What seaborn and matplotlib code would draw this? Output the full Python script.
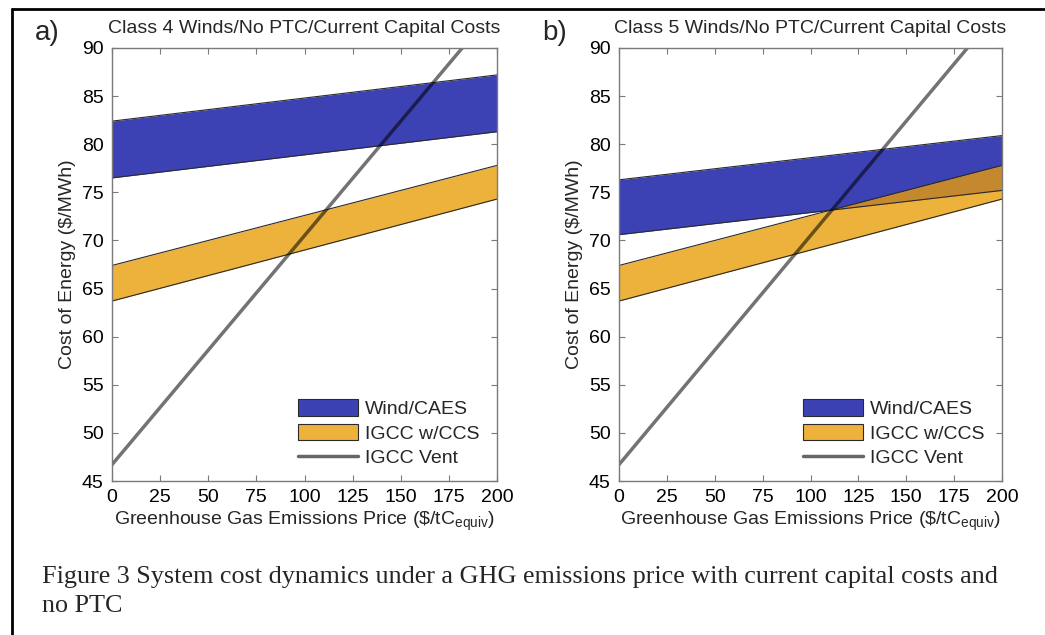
import matplotlib
matplotlib.use("Agg")
import matplotlib.pyplot as plt
import numpy as np
import pandas as pd
import seaborn as sns
from matplotlib.lines import Line2D
from matplotlib.patches import Patch

# data (cost of energy, $/MWh, at price 0 and 200 $/tC)
price = [0, 200]
vent = [46.7, 94.3]
ccs_low = [63.7, 74.3]
ccs_high = [67.4, 77.8]
wind4_low = [76.5, 81.3]
wind4_high = [82.4, 87.2]
wind5_low = [70.6, 75.2]
wind5_high = [76.3, 80.9]

panels = ["a)", "b)"]
titles = [
    "Class 4 Winds/No PTC/Current Capital Costs",
    "Class 5 Winds/No PTC/Current Capital Costs",
]
caption = ("Figure 3 System cost dynamics under a GHG emissions price with current capital costs and\n"
           "no PTC")

BLUE = "#3C42B4"
ORANGE = "#ECB23C"
OVERLAP = "#C4882F"
EDGE = "#2a2a2a"
SPINE = "#7a7a7a"

sns.set_theme(style="white")
plt.rcParams["font.family"] = ["Liberation Sans", "DejaVu Sans"]
plt.rcParams["mathtext.fontset"] = "custom"
plt.rcParams["mathtext.rm"] = "Liberation Sans"

fig = plt.figure(figsize=(10.45, 6.35), dpi=100)
axes = [
    fig.add_axes([112 / 1045, 1 - 481 / 635, 385 / 1045, 433 / 635]),
    fig.add_axes([619 / 1045, 1 - 481 / 635, 383 / 1045, 433 / 635]),
]

winds = [(wind4_low, wind4_high), (wind5_low, wind5_high)]

for ax, letter, title, (w_lo, w_hi) in zip(axes, panels, titles, winds):
    x = np.array(price, dtype=float)
    w_lo = np.array(w_lo)
    w_hi = np.array(w_hi)
    c_lo = np.array(ccs_low)
    c_hi = np.array(ccs_high)

    ax.fill_between(x, w_lo, w_hi, color=BLUE, lw=0)
    ax.fill_between(x, c_lo, c_hi, color=ORANGE, lw=0)
    ov_lo = np.maximum(w_lo, c_lo)
    ov_hi = np.minimum(w_hi, c_hi)
    ax.fill_between(x, ov_lo, ov_hi, where=ov_hi > ov_lo, interpolate=True,
                    color=OVERLAP, lw=0)

    edges = pd.DataFrame({"price": x, "wl": w_lo, "wh": w_hi, "cl": c_lo, "ch": c_hi})
    for col in ["wl", "wh", "cl", "ch"]:
        sns.lineplot(data=edges, x="price", y=col, ax=ax, color=EDGE, lw=0.8)

    vent_df = pd.DataFrame({"price": price, "cost": vent})
    sns.lineplot(data=vent_df, x="price", y="cost", ax=ax, color="black",
                 alpha=0.55, lw=2.5)

    ax.set_xlim(0, 200)
    ax.set_ylim(45, 90)
    ax.set_xticks(range(0, 201, 25))
    ax.set_yticks(range(45, 91, 5))
    ax.tick_params(direction="in", length=4, width=0.8, color=SPINE,
                   labelsize=14, labelcolor="black", top=True, right=True,
                   bottom=True, left=True, pad=6)
    for s in ax.spines.values():
        s.set_color(SPINE)
        s.set_linewidth(1.0)

    ax.set_title(title, fontsize=14, pad=11)
    ax.set_xlabel("Greenhouse Gas Emissions Price (\\$/tC$_{\\mathrm{equiv}}$)",
                  fontsize=14, labelpad=2)
    ax.set_ylabel("Cost of Energy (\\$/MWh)", fontsize=14, labelpad=4)
    ax.text(-0.2, 1.019, letter, transform=ax.transAxes, fontsize=20,
            ha="left", va="baseline")

    handles = [
        Patch(facecolor=BLUE, edgecolor=EDGE, lw=0.8),
        Patch(facecolor=ORANGE, edgecolor=EDGE, lw=0.8),
        Line2D([], [], color="#666666", lw=2.5),
    ]
    ax.legend(handles, ["Wind/CAES", "IGCC w/CCS", "IGCC Vent"], loc="lower right",
              bbox_to_anchor=(0.99, 0.0), frameon=False, fontsize=14,
              handlelength=3.1, handleheight=0.9, handletextpad=0.35,
              labelspacing=0.3, borderpad=0.2)

fig.text(42 / 1045, 1 - 566 / 635, caption, fontsize=18.8, family="Liberation Serif",
         ha="left", va="top", linespacing=1.4)

# page frame
fig.add_artist(Line2D([12 / 1045, 1], [1 - 9 / 635] * 2, transform=fig.transFigure,
                      color="black", lw=2))
fig.add_artist(Line2D([12 / 1045] * 2, [0, 1 - 9 / 635], transform=fig.transFigure,
                      color="black", lw=2))

fig.savefig("out.png", dpi=100)
